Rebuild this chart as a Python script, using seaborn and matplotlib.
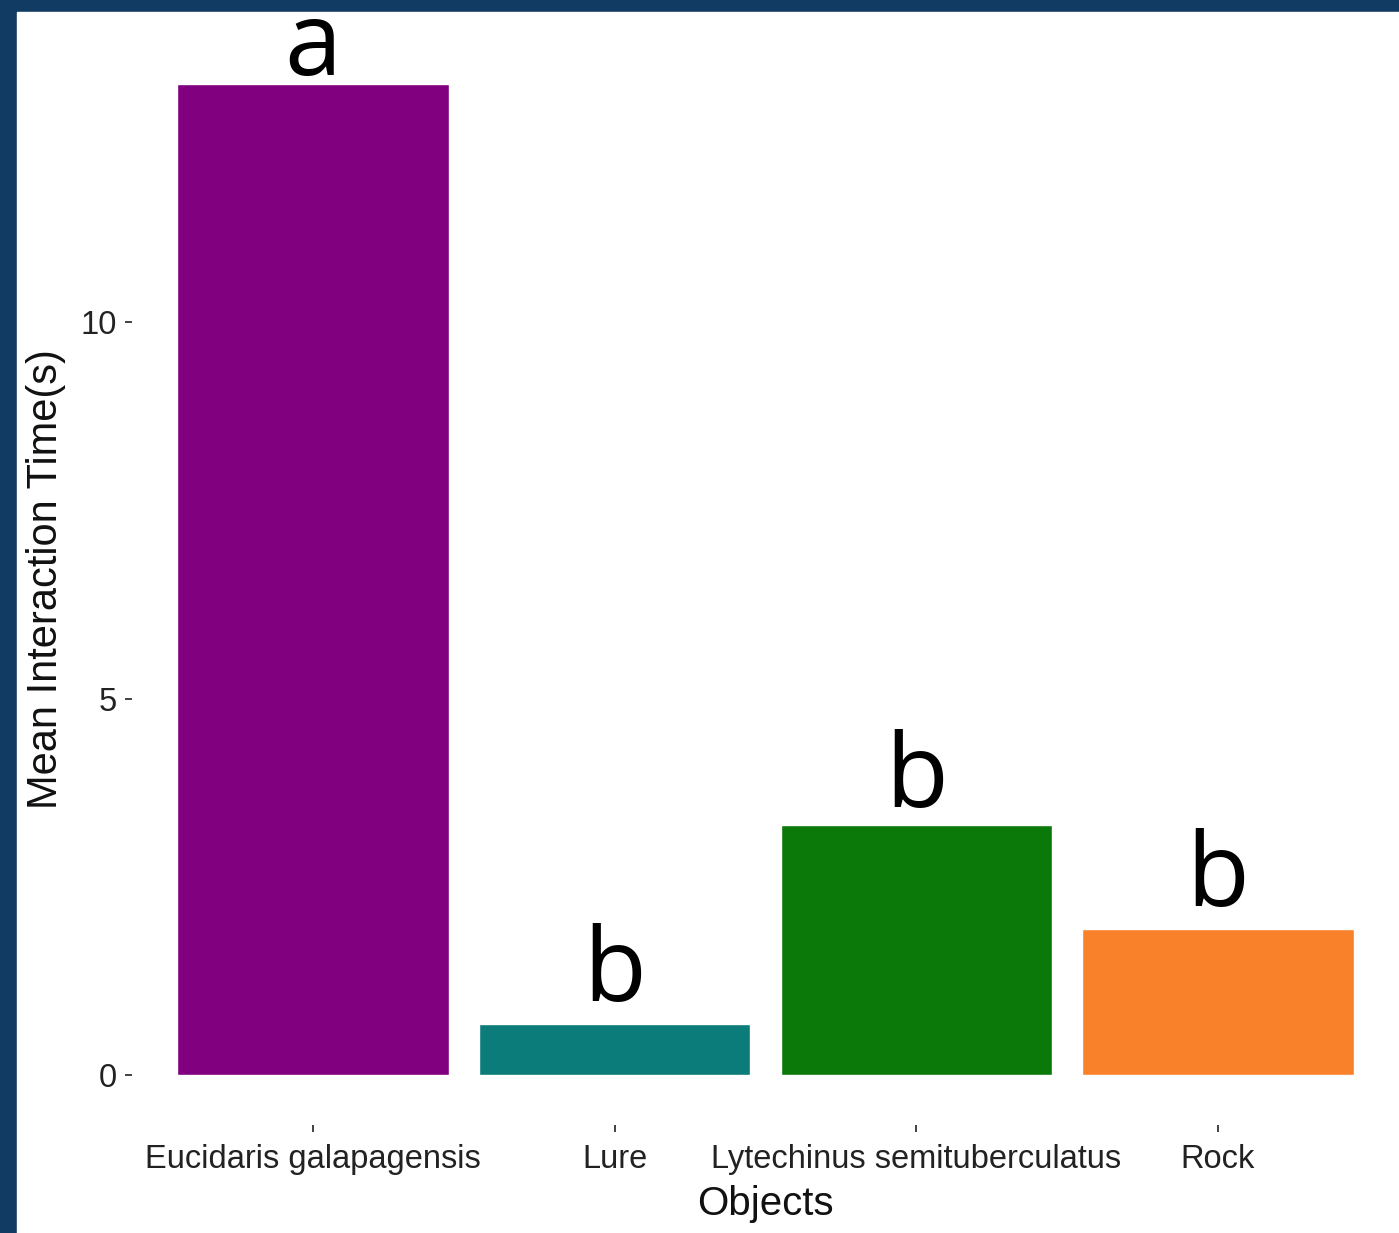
import matplotlib
matplotlib.use("Agg")
import matplotlib.pyplot as plt
import seaborn as sns
import pandas as pd
from matplotlib.patches import Rectangle

# values
objects = ["Eucidaris galapagensis", "Lure", "Lytechinus semituberculatus", "Rock"]
mean_time = [13.17, 0.68, 3.33, 1.95]
group_letters = ["a", "b", "b", "b"]
bar_colors = ["#800080", "#0C7C7B", "#0A790A", "#F8812A"]

# how far above each bar its letter sits (points)
letter_pad = [6, 17, 13, 16]

df = pd.DataFrame({"Objects": objects, "Mean Interaction Time(s)": mean_time})

sns.set_style("white")
plt.rcParams["font.family"] = ["Liberation Sans", "DejaVu Sans"]

fig = plt.figure(figsize=(13.99, 12.33), dpi=100)
fig.patch.set_facecolor("#123B63")
fig.add_artist(Rectangle((17 / 1399, 0), 1 - 17 / 1399, 1 - 12 / 1233,
                         transform=fig.transFigure, color="white", zorder=0))

ax = fig.add_axes([132 / 1399, 108 / 1233, 1 - 132 / 1399, 1091 / 1233])
ax.set_facecolor("white")

sns.barplot(data=df, x="Objects", y="Mean Interaction Time(s)", hue="Objects",
            palette=bar_colors, saturation=1, width=0.9, legend=False, ax=ax)

top = max(mean_time)
ax.set_xlim(-0.6, len(objects) - 0.4)
ax.set_ylim(-0.05 * top, top * 1.05)
ax.set_yticks([0, 5, 10])
ax.set_yticklabels(["0", "5", "10"])

for s in ax.spines.values():
    s.set_visible(False)

ax.tick_params(axis="both", length=5, width=1.3, color="#333333",
               labelcolor="#222222", labelsize=23.5, left=True, bottom=True)
ax.tick_params(axis="y", pad=6)
ax.tick_params(axis="x", pad=9)

ax.set_xlabel("Objects", fontsize=29, color="#111111", labelpad=7)
ax.set_ylabel("Mean Interaction Time(s)", fontsize=30, color="#111111", labelpad=10)

for i, (val, lab) in enumerate(zip(mean_time, group_letters)):
    ax.annotate(lab, (i, val), xytext=(0, letter_pad[i]), textcoords="offset points",
                ha="center", va="baseline", fontsize=74, family="Open Sans",
                color="black", annotation_clip=False)

fig.savefig("out.png", dpi=100, facecolor=fig.get_facecolor())
